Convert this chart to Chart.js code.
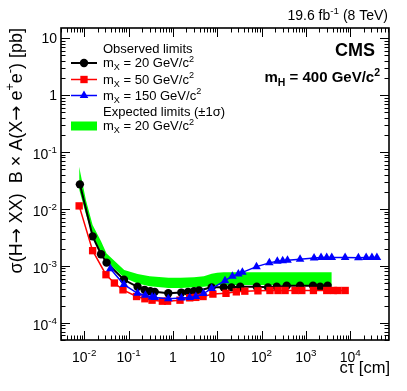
<!DOCTYPE html>
<html>
<head>
<meta charset="utf-8">
<script src="https://cdn.jsdelivr.net/npm/chart.js@4.4.1/dist/chart.umd.min.js"></script>
<style>
  html, body { margin: 0; padding: 0; background: #fff; }
  canvas { display: block; }
</style>
</head>
<body>
<canvas id="chart" width="407" height="391"></canvas>
<script>
// --- data: c*tau [cm] vs limit [pb] ---
const obs20Ctau = [0.008, 0.0155, 0.024, 0.032, 0.079, 0.16, 0.23, 0.31, 0.39, 0.79, 1.55, 2.2, 3.0, 3.9, 7.5, 14, 21, 33, 78, 140, 220, 370, 740, 1450, 2100, 3100];
const obs20Limit = [0.027, 0.0033, 0.0016, 0.00114, 0.00057, 0.00043, 0.00038, 0.00036, 0.00035, 0.00033, 0.00034, 0.00035, 0.00036, 0.00037, 0.00042, 0.00042, 0.00042, 0.00043, 0.00043, 0.00042, 0.00043, 0.00045, 0.00045, 0.00045, 0.00043, 0.00045];

const obs50Ctau = [0.0077, 0.0155, 0.031, 0.048, 0.075, 0.152, 0.234, 0.34, 0.58, 0.76, 1.45, 2.4, 3.3, 4.8, 8, 15.8, 27, 42, 83, 155, 235, 340, 570, 810, 1480, 2960, 4200, 5300, 7700];
const obs50Limit = [0.0113, 0.00185, 0.0007, 0.0005, 0.00038, 0.00029, 0.000265, 0.00025, 0.00024, 0.00024, 0.00025, 0.000275, 0.00028, 0.00029, 0.00032, 0.00033, 0.00035, 0.00036, 0.000365, 0.00037, 0.00037, 0.00037, 0.00037, 0.00037, 0.00037, 0.00037, 0.00037, 0.00037, 0.00037];

const obs150Ctau = [0.039, 0.079, 0.16, 0.24, 0.34, 0.39, 0.79, 1.56, 2.4, 3.3, 4.9, 7.5, 15, 22, 30, 37, 77, 150, 227, 300, 385, 740, 1530, 2200, 2950, 3840, 7670, 15300, 22900, 30900, 40000];
const obs150Limit = [0.00089, 0.00047, 0.00033, 0.000304, 0.000284, 0.00028, 0.000266, 0.000273, 0.00028, 0.00029, 0.000326, 0.0004, 0.00055, 0.00066, 0.00072, 0.00077, 0.00097, 0.00113, 0.00121, 0.00123, 0.00126, 0.00131, 0.00137, 0.00141, 0.00141, 0.00141, 0.00141, 0.00139, 0.00141, 0.00141, 0.0014];

// expected limits (+-1 sigma band), mX = 20
const exp20Ctau = [0.0077, 0.011, 0.0155, 0.024, 0.032, 0.08, 0.16, 0.3, 0.8, 1.5, 3, 5, 7.5, 10, 14, 30, 100, 300, 1000, 3840];
const exp20Up = [0.055, 0.014, 0.0052, 0.0027, 0.00165, 0.00085, 0.00072, 0.00066, 0.00062, 0.00062, 0.00063, 0.00066, 0.00073, 0.00076, 0.00077, 0.00077, 0.00077, 0.00077, 0.00077, 0.00077];
const exp20Down = [0.022, 0.008, 0.0034, 0.0017, 0.0012, 0.00062, 0.00049, 0.00044, 0.00041, 0.00041, 0.00042, 0.00043, 0.00045, 0.00046, 0.00046, 0.00046, 0.00046, 0.00046, 0.00046, 0.00046];

// axis ticks: [base, exponent]
const xTickValues = [1e-2, 1e-1, 1, 10, 1e2, 1e3, 1e4];
const xTickLabels = [['10', '-2'], ['10', '-1'], ['1', ''], ['10', ''], ['10', '2'], ['10', '3'], ['10', '4']];
const yTickValues = [1e-4, 1e-3, 1e-2, 1e-1, 1, 10];
const yTickLabels = [['10', '-4'], ['10', '-3'], ['10', '-2'], ['10', '-1'], ['1', ''], ['10', '']];

const FONT = '"Liberation Sans", Arial, Helvetica, sans-serif';
const SYMFONT = '"DejaVu Sans", sans-serif';

function points(xs, ys) {
    return xs.map((x, i) => ({ x: x, y: ys[i] }));
}

function pieceFont(k, size, bold) {
    if (k === 'sym') return size + 'px ' + SYMFONT;
    return (bold ? 'bold ' : '') + (k ? size * 0.7 : size) + 'px ' + FONT;
}

// draws a list of [text, 'sup'|'sub'|'sym'|''] pieces, returns width
function richText(ctx, parts, x, y, size, align, bold) {
    const w = parts.map(([t, k]) => {
        ctx.font = pieceFont(k, size, bold);
        return ctx.measureText(t).width;
    });
    const total = w.reduce((a, b) => a + b, 0);
    let cx = align === 'right' ? x - total : align === 'center' ? x - total / 2 : x;
    ctx.textAlign = 'left';
    ctx.textBaseline = 'alphabetic';
    parts.forEach(([t, k], i) => {
        ctx.font = pieceFont(k, size, bold);
        const dy = k === 'sup' ? -size * 0.42 : k === 'sub' ? size * 0.25 : 0;
        ctx.fillText(t, cx, y + dy);
        cx += w[i];
    });
    return total;
}

function logTicks(scale, cb) {
    const lo = Math.floor(Math.log10(scale.min));
    const hi = Math.ceil(Math.log10(scale.max));
    for (let e = lo; e <= hi; e++) {
        for (let m = 1; m <= 9; m++) {
            const v = m * Math.pow(10, e);
            if (v < scale.min * 0.9999 || v > scale.max * 1.0001) continue;
            cb(scale.getPixelForValue(v), m === 1);
        }
    }
}

const rootStyle = {
    id: 'rootStyle',
    afterDraw(chart) {
        const ctx = chart.ctx;
        const a = chart.chartArea;
        const xs = chart.scales.x;
        const ys = chart.scales.y;
        ctx.save();
        ctx.fillStyle = '#000';
        ctx.strokeStyle = '#000';

        // ticks on all four sides, pointing inwards
        ctx.lineWidth = 1;
        ctx.beginPath();
        logTicks(xs, (p, major) => {
            const len = major ? 9 : 4.5;
            const px = Math.round(p) + 0.5;
            ctx.moveTo(px, a.bottom); ctx.lineTo(px, a.bottom - len);
            ctx.moveTo(px, a.top); ctx.lineTo(px, a.top + len);
        });
        logTicks(ys, (p, major) => {
            const len = major ? 9 : 4.5;
            const py = Math.round(p) + 0.5;
            ctx.moveTo(a.left, py); ctx.lineTo(a.left + len, py);
            ctx.moveTo(a.right, py); ctx.lineTo(a.right - len, py);
        });
        ctx.stroke();

        // frame
        ctx.lineWidth = 1.6;
        ctx.strokeRect(a.left, a.top, a.right - a.left, a.bottom - a.top);

        // tick labels
        xTickValues.forEach((v, i) => {
            const [b, e] = xTickLabels[i];
            richText(ctx, e ? [[b, ''], [e, 'sup']] : [[b, '']], xs.getPixelForValue(v), 362, 14, 'center');
        });
        yTickValues.forEach((v, i) => {
            const [b, e] = yTickLabels[i];
            const py = ys.getPixelForValue(v);
            richText(ctx, e ? [[b, ''], [e, 'sup']] : [[b, '']], 57, py + (e ? 7 : 5), 14, 'right');
        });

        // axis titles
        richText(ctx, [['c\u03C4 [cm]', '']], a.right + 1, 373, 16.5, 'right');
        ctx.save();
        ctx.translate(22, a.top);
        ctx.rotate(-Math.PI / 2);
        richText(ctx, [
            ['\u03C3(H', ''], ['\u2192', 'sym'], [' XX)  B \u00D7 A(X', ''], ['\u2192', 'sym'],
            [' e', ''], ['+', 'sup'], ['e', ''], ['-', 'sup'], [') [pb]', '']
        ], 0, 0, 18, 'right');
        ctx.restore();

        // header texts
        richText(ctx, [['19.6 fb', ''], ['-1', 'sup'], [' (8 TeV)', '']], 388, 20, 14, 'right');
        richText(ctx, [['CMS', '']], 375, 56, 18, 'right', true);
        richText(ctx, [['m', ''], ['H', 'sub'], [' = 400 GeV/c', ''], ['2', 'sup']], 380, 82, 15, 'right', true);

        // legend
        const lx0 = 71, lx1 = 97, lm = 84, tx = 103, fs = 13;
        richText(ctx, [['Observed limits', '']], tx, 53, fs, 'left');
        const rows = [
            { y: 63, color: '#000', ds: 0, mass: '20' },
            { y: 79.5, color: '#f00', ds: 1, mass: '50' },
            { y: 95.5, color: '#00f', ds: 2, mass: '150' }
        ];
        rows.forEach(r => {
            const d = chart.data.datasets[r.ds];
            ctx.strokeStyle = r.color;
            ctx.lineWidth = d.borderWidth;
            ctx.beginPath();
            ctx.moveTo(lx0, r.y); ctx.lineTo(lx1, r.y);
            ctx.stroke();
            ctx.fillStyle = r.color;
            Chart.helpers.drawPoint(ctx, { pointStyle: d.pointStyle, radius: d.pointRadius, rotation: 0, borderWidth: 0 }, lm, r.y);
            ctx.fillStyle = '#000';
            richText(ctx, [['m', ''], ['X', 'sub'], [' = ' + r.mass + ' GeV/c', ''], ['2', 'sup']], tx, r.y + 4, fs, 'left');
        });
        ctx.fillStyle = '#000';
        richText(ctx, [['Expected limits (\u00B11\u03C3)', '']], tx, 116, fs, 'left');
        ctx.fillStyle = '#00ff00';
        ctx.fillRect(lx0, 121.5, lx1 - lx0, 9);
        ctx.fillStyle = '#000';
        richText(ctx, [['m', ''], ['X', 'sub'], [' = 20 GeV/c', ''], ['2', 'sup']], tx, 130, fs, 'left');

        ctx.restore();
    }
};

const hiddenAxis = {
    grid: { display: false, drawTicks: false },
    border: { display: false },
    ticks: { display: false }
};

new Chart(document.getElementById('chart'), {
    type: 'line',
    data: {
        datasets: [
            {
                label: 'Observed mX = 20',
                data: points(obs20Ctau, obs20Limit),
                borderColor: '#000', backgroundColor: '#000',
                borderWidth: 2, pointStyle: 'circle', pointRadius: 4.2,
                pointBorderWidth: 0, order: 3
            },
            {
                label: 'Observed mX = 50',
                data: points(obs50Ctau, obs50Limit),
                borderColor: '#f00', backgroundColor: '#f00',
                borderWidth: 1.5, pointStyle: 'rect', pointRadius: 5.2,
                pointBorderWidth: 0, order: 2
            },
            {
                label: 'Observed mX = 150',
                data: points(obs150Ctau, obs150Limit),
                borderColor: '#00f', backgroundColor: '#00f',
                borderWidth: 1.5, pointStyle: 'triangle', pointRadius: 5,
                pointBorderWidth: 0, order: 1
            },
            {
                label: 'Expected +1 sigma',
                data: points(exp20Ctau, exp20Up),
                borderWidth: 0, pointRadius: 0,
                backgroundColor: '#00ff00',
                fill: '+1', order: 10
            },
            {
                label: 'Expected -1 sigma',
                data: points(exp20Ctau, exp20Down),
                borderWidth: 0, pointRadius: 0,
                backgroundColor: '#00ff00',
                fill: false, order: 11
            }
        ]
    },
    options: {
        responsive: false,
        animation: false,
        events: [],
        layout: { padding: { top: 28, right: 18, left: 0, bottom: 0 } },
        plugins: { legend: { display: false }, tooltip: { enabled: false } },
        elements: { line: { tension: 0 } },
        scales: {
            x: {
                type: 'logarithmic', min: 0.003, max: 75000,
                ...hiddenAxis,
                afterFit(scale) { scale.height = 51; }
            },
            y: {
                type: 'logarithmic', min: 5e-5, max: 15,
                ...hiddenAxis,
                afterFit(scale) { scale.width = 61; }
            }
        }
    },
    plugins: [rootStyle]
});
</script>
</body>
</html>
